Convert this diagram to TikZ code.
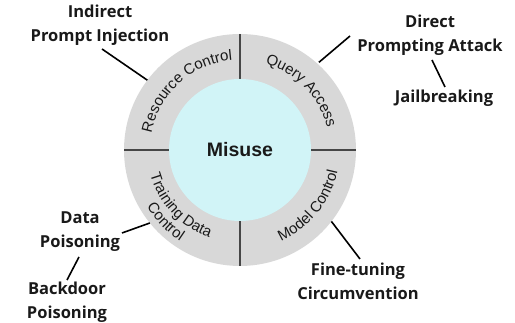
\documentclass[tikz,border=0pt]{standalone}
\usepackage{fontspec}
\setmainfont{Open Sans}
\newfontfamily\ringfont{Liberation Sans}
\newfontfamily\corefont{Liberation Sans}
\usetikzlibrary{decorations.text,calc}
\definecolor{ringgray}{RGB}{216,216,216}
\definecolor{coreblue}{RGB}{209,244,247}
\definecolor{divider}{RGB}{70,70,70}
\definecolor{inktext}{RGB}{25,25,25}
\begin{document}
\begin{tikzpicture}[x=1pt,y=1pt,
  label/.style={font=\bfseries\fontsize{16.5}{24}\selectfont, text=inktext, align=center, inner sep=0pt},
  link/.style={line width=1.6pt, black},
  ringtext/.style={decorate, decoration={text along path, text align=center,
      text={|\ringfont\fontsize{15}{15}\selectfont\color{inktext}|#1}}}]
\useasboundingbox (0,0) rectangle (515,323);
\coordinate (C) at (240,173);
% outer ring and its four sectors
\fill[ringgray] (C) circle[radius=116];
\draw[divider, line width=1.4pt] ($(C)+(-116,0)$) -- ($(C)+(116,0)$);
\draw[divider, line width=1.4pt] ($(C)+(0,-116)$) -- ($(C)+(0,116)$);
% core
\fill[coreblue] (C) circle[radius=71];
\node[font=\corefont\bfseries\fontsize{19.5}{19.5}\selectfont, text=inktext] (core) at (C) {Misuse};
% sector labels along the ring
\path[ringtext={Resource Control}] ($(C)+(182:90)$) arc[start angle=182, end angle=82, radius=90];
\path[ringtext={Query Access}] ($(C)+(94:90)$) arc[start angle=94, end angle=-6, radius=90];
\path[ringtext={Model Control}] ($(C)+(-89:100)$) arc[start angle=-89, end angle=11, radius=100];
\path[ringtext={Training Data}] ($(C)+(173:93)$) arc[start angle=173, end angle=273, radius=93];
\path[ringtext={Control}] ($(C)+(174:109)$) arc[start angle=174, end angle=274, radius=109];
% attack labels
\node[label] (indirect) at (100,298) {Indirect\\Prompt Injection};
\node[label] (direct) at (430,288) {Direct\\Prompting Attack};
\node[label] (jail) at (444,225) {Jailbreaking};
\node[label] (data) at (80,91) {Data\\Poisoning};
\node[label] (backdoor) at (67,21) {Backdoor\\Poisoning};
\node[label] (finetune) at (358,42) {Fine-tuning\\Circumvention};
% connector ends on the ring
\coordinate (rRes) at ($(C)+(143:116)$);
\coordinate (rQry) at ($(C)+(48:118)$);
\coordinate (rTrn) at ($(C)+(219:116)$);
\coordinate (rMod) at ($(C)+(-38:116)$);
\coordinate (eInd) at (102,274);
\coordinate (eDir) at (350,287);
\coordinate (eDirJ) at (432,263);
\coordinate (eJail) at (445,236);
\coordinate (eData) at (122,90);
\coordinate (eDataB) at (79,66);
\coordinate (eBack) at (67,43);
\coordinate (eFine) at (360,64);
\draw[link] (eInd) -- (rRes);
\draw[link] (rQry) -- (eDir);
\draw[link] (eDirJ) -- (eJail);
\draw[link] (eData) -- (rTrn);
\draw[link] (eDataB) -- (eBack);
\draw[link] (rMod) -- (eFine);
\end{tikzpicture}
\end{document}
